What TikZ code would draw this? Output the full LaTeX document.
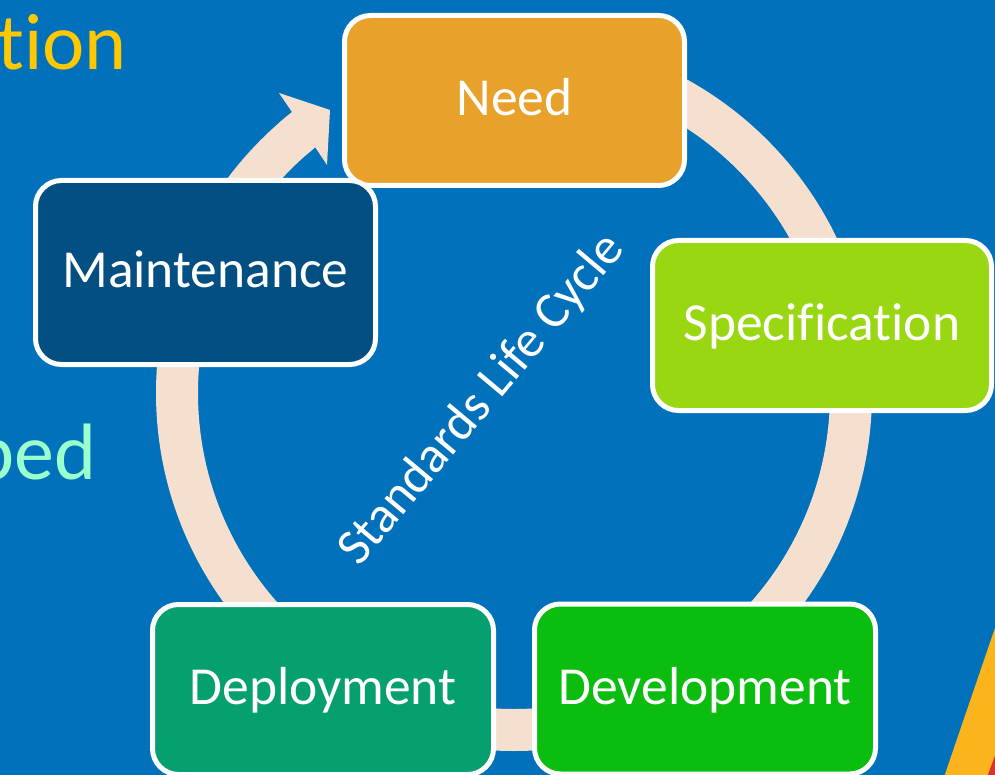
\documentclass[tikz,border=0pt]{standalone}
\usepackage{fontspec}
\setmainfont{Carlito}[Ligatures={NoCommon}, RawFeature={-liga;-clig}]
\usetikzlibrary{calc}
\definecolor{bgblue}{HTML}{0171BB}
\definecolor{ringcol}{HTML}{F5E0CF}
\definecolor{needcol}{HTML}{E8A12A}
\definecolor{speccol}{HTML}{99D713}
\definecolor{devcol}{HTML}{0ABD0E}
\definecolor{depcol}{HTML}{06A070}
\definecolor{maintcol}{HTML}{034F82}
\definecolor{tioncol}{HTML}{FFC800}
\definecolor{pedcol}{HTML}{99FFCC}
\definecolor{wedgeyel}{HTML}{FBB41B}
\definecolor{wedgered}{HTML}{E0302A}
\tikzset{
  stagebox/.style={draw=white, line width=5pt, rounded corners=26pt, text=white,
    font=\fontsize{53.5}{60}\selectfont, inner sep=0pt,
    text height=42.8pt, text depth=12.8pt, align=center},
  bigword/.style={font=\fontsize{80}{96}\selectfont, inner sep=0pt, anchor=base east}
}
\begin{document}
\begin{tikzpicture}[x=1pt,y=-1pt]
\useasboundingbox (0,0) rectangle (995,775);
\clip (0,0) rectangle (995,775);
\fill[bgblue] (-5,-5) rectangle (1000,780);
% side words
\node[bigword, text=tioncol] (tion) at (127,70) {tion};
\node[bigword, text=pedcol] (ped) at (97,479) {ped};
% corner wedge
\fill[wedgeyel] (997,622) -- (943,780) -- (1000,780) -- (1000,622) -- cycle;
\fill[wedgered] (997,750) -- (986,780) -- (1000,780) -- cycle;
% ring
\coordinate (C) at (514,393);
\draw[ringcol, line width=42pt] ($(C)+(-90:337)$) arc[start angle=-90, end angle=231.3, radius=337];
\fill[ringcol] ($(C)+(229:358)$) -- (292,112) -- (279,93) -- (330,110) -- (327,165) -- (315,147) -- ($(C)+(229:316)$) -- cycle;
% boxes
\node[stagebox, fill=needcol, minimum width=340pt, minimum height=170pt] (need) at (514.5,100.5) {Need};
\node[stagebox, fill=speccol, minimum width=339pt, minimum height=170pt] (spec) at (822,325.5) {Specification};
\node[stagebox, fill=devcol, minimum width=341pt, minimum height=170pt] (dev) at (705,689) {Development};
\node[stagebox, fill=depcol, minimum width=341pt, minimum height=170pt] (dep) at (323,689.5) {Deployment};
\node[stagebox, fill=maintcol, minimum width=340pt, minimum height=184pt] (maint) at (205.5,272.5) {Maintenance};
% centre label
\node[rotate=50, text=white, font=\fontsize{51.5}{60}\selectfont, inner sep=0pt] (cyc) at (482,400) {Standards Life Cycle};
\end{tikzpicture}
\end{document}
